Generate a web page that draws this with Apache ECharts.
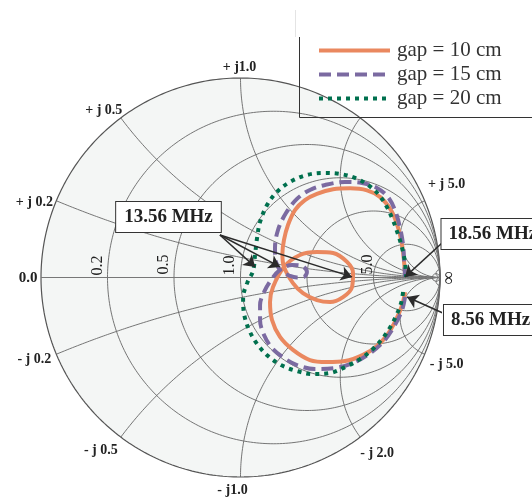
<!DOCTYPE html>
<html><head><meta charset="utf-8">
<script src="https://cdn.jsdelivr.net/npm/echarts@6/dist/echarts.min.js"></script>
<style>html,body{margin:0;padding:0;background:#fff}#c{width:532px;height:500px}</style>
</head><body><div id="c"></div>
<script>
// ---------- data (reflection coefficient Γ = [Re, Im]) ----------
const seriesNames = ['gap = 10 cm', 'gap = 15 cm', 'gap = 20 cm'];
const gap10 = [[0.825,-0.073],[0.810,-0.138],[0.779,-0.213],[0.739,-0.283],[0.684,-0.343],[0.614,-0.388],[0.524,-0.419],[0.434,-0.424],[0.348,-0.414],[0.263,-0.363],[0.198,-0.298],[0.158,-0.213],[0.148,-0.123],[0.163,-0.048],[0.218,0.053],[0.298,0.113],[0.383,0.128],[0.464,0.123],[0.534,0.078],[0.564,0.023],[0.559,-0.048],[0.514,-0.098],[0.449,-0.123],[0.383,-0.113],[0.313,-0.078],[0.263,-0.028],[0.218,0.053],[0.210,0.118],[0.218,0.188],[0.238,0.263],[0.273,0.338],[0.323,0.388],[0.383,0.419],[0.464,0.442],[0.549,0.447],[0.634,0.437],[0.699,0.404],[0.754,0.338],[0.789,0.253],[0.810,0.163],[0.820,0.078],[0.825,0.013]];
const gap15 = [[0.825,-0.098],[0.810,-0.163],[0.774,-0.238],[0.724,-0.313],[0.659,-0.373],[0.574,-0.424],[0.474,-0.454],[0.373,-0.459],[0.283,-0.439],[0.218,-0.404],[0.158,-0.353],[0.118,-0.288],[0.098,-0.213],[0.098,-0.138],[0.118,-0.073],[0.153,-0.013],[0.198,0.038],[0.258,0.063],[0.308,0.058],[0.333,0.028],[0.318,0.003],[0.283,0.000],[0.248,0.008],[0.203,0.033],[0.178,0.078],[0.173,0.148],[0.188,0.238],[0.228,0.323],[0.283,0.394],[0.348,0.439],[0.424,0.464],[0.524,0.479],[0.609,0.474],[0.684,0.449],[0.739,0.404],[0.774,0.338],[0.800,0.248],[0.815,0.163],[0.820,0.088],[0.825,0.003]];
const gap20 = [[0.815,-0.073],[0.805,-0.128],[0.784,-0.183],[0.754,-0.243],[0.714,-0.303],[0.664,-0.358],[0.599,-0.409],[0.524,-0.449],[0.449,-0.479],[0.363,-0.484],[0.283,-0.469],[0.203,-0.439],[0.138,-0.394],[0.083,-0.333],[0.043,-0.263],[0.018,-0.183],[0.013,-0.103],[0.033,-0.028],[0.063,0.033],[0.073,0.113],[0.083,0.198],[0.098,0.278],[0.133,0.363],[0.183,0.429],[0.248,0.479],[0.333,0.514],[0.414,0.524],[0.499,0.519],[0.574,0.499],[0.639,0.464],[0.694,0.414],[0.734,0.353],[0.764,0.288],[0.789,0.218],[0.810,0.148],[0.825,0.073],[0.830,0.003]];

// Smith chart grid values and tick labels
const resistanceGrid = [0.2, 0.5, 1, 2, 5, 50];
const reactanceGrid = [0.2, 0.5, 1, 2, 5, 50];
const resistanceTicks = [0.2, 0.5, 1, 5];
const resistanceTickLabels = ['0.2', '0.5', '1.0', '5.0'];
const reactanceTicks = [0.2, 0.5, 1, 5, -0.2, -0.5, -1, -2, -5];
const reactanceTickLabels = ['+ j 0.2', '+ j 0.5', '+ j1.0', '+ j 5.0', '- j 0.2', '- j 0.5', '- j1.0', '- j 2.0', '- j 5.0'];
const realAxisLabels = ['0.0', '\u221E'];

// frequency annotations
const freqLabels = ['13.56 MHz', '18.56 MHz', '8.56 MHz'];
const points1356 = [[0.073,0.053],[0.198,0.053],[0.559,0.003]];
const point1856 = [0.825,0.003];
const point856 = [0.835,-0.098];

// ---------- layout (pixels / styles) ----------
const reactanceLabelOffsets = [[-22,2],[-17,-8],[-1,-11],[22,-16],[-22,5],[-20,13],[-8,13],[17,16],[22,10]];
const resistanceLabelOffsets = [[-10,-12],[-10,-13],[-11,-12],[-6,-13]];
const boxAnchors = [[-0.361,0.303],[1.0075,0.218],[1.020,-0.213]]; // box1 centre, box2/3 left-middle
const arrowTails = [[-0.103,0.213],[1.010,0.173],[1.015,-0.178]];
const colors = ['#ea885f', '#7b6aa1', '#00704e'];
const SERIF = '"Liberation Serif","Times New Roman",serif';

function gammaOf(r, x) { const a = r - 1, c = r + 1, d = c * c + x * x; return [(a * c + x * x) / d, 2 * x / d]; }
function rCircle(r) { const c = r / (r + 1), rad = 1 / (r + 1), p = []; for (let i = 0; i <= 360; i++) { const t = i * Math.PI / 180; p.push([c + rad * Math.cos(t), rad * Math.sin(t)]); } return p; }
function xArc(x) { const p = []; for (let i = 0; i <= 400; i++) { const s = i / 400 * Math.PI / 2 * 0.9995; p.push(gammaOf(Math.tan(s), x)); } return p; }

const gridStyle = { color: '#666', width: 0.9 };
const series = [];
series.push({
  type: 'custom', coordinateSystem: 'cartesian2d', silent: true, z: 0, clip: false,
  data: [[0, 0]],
  renderItem: function (params, api) {
    const c = api.coord([0, 0]), e = api.coord([1, 0]);
    return { type: 'circle', shape: { cx: c[0], cy: c[1], r: e[0] - c[0] }, style: { fill: '#f4f6f5', stroke: null } };
  }
});
function gridLine(pts, style) {
  series.push({ type: 'line', data: pts, symbol: 'none', silent: true, z: 1, clip: false, lineStyle: style, animation: false });
}
gridLine(rCircle(0), { color: '#555', width: 1.2 });
resistanceGrid.forEach(r => gridLine(rCircle(r), gridStyle));
reactanceGrid.forEach(x => { gridLine(xArc(x), gridStyle); gridLine(xArc(-x), gridStyle); });
gridLine([[-1, 0], [1, 0]], { color: '#777', width: 1 });

const dataSets = [gap10, gap15, gap20];
const dashTypes = ['solid', [12, 6], [4, 5]];
dataSets.forEach((d, i) => {
  series.push({
    name: seriesNames[i], type: 'line', data: d, symbol: 'none', smooth: 0.35, z: 3 + i, clip: false,
    lineStyle: { color: colors[i], width: 4, type: dashTypes[i], cap: 'butt' },
    itemStyle: { color: colors[i] }, animation: false
  });
});

// arrows
const arrowData = [];
points1356.forEach(p => arrowData.push({ coords: [arrowTails[0], p] }));
arrowData.push({ coords: [arrowTails[1], point1856] });
arrowData.push({ coords: [arrowTails[2], point856] });
series.push({
  type: 'lines', coordinateSystem: 'cartesian2d', z: 8, silent: true,
  symbol: ['none', 'arrow'], symbolSize: 11,
  lineStyle: { color: '#2b2b2b', width: 1.5, opacity: 1 },
  data: arrowData, animation: false
});

// text labels
const textItems = [];
reactanceTicks.forEach((x, i) => { const g = gammaOf(0, x); textItems.push({ p: g, t: reactanceTickLabels[i], o: reactanceLabelOffsets[i], rot: 0, font: 'bold 14px ' + SERIF }); });
resistanceTicks.forEach((r, i) => { textItems.push({ p: [(r - 1) / (r + 1), 0], t: resistanceTickLabels[i], o: resistanceLabelOffsets[i], rot: Math.PI / 2, font: '16px ' + SERIF }); });
textItems.push({ p: [-1, 0], t: realAxisLabels[0], o: [-13, 1], rot: 0, font: 'bold 15px ' + SERIF });
textItems.push({ p: [1, 0], t: realAxisLabels[1], o: [9, 0], rot: Math.PI / 2, font: 'bold 18px ' + SERIF });
series.push({
  type: 'custom', coordinateSystem: 'cartesian2d', silent: true, z: 9, clip: false,
  data: textItems.map((it, i) => [it.p[0], it.p[1], i]),
  renderItem: function (params, api) {
    const it = textItems[api.value(2)];
    const c = api.coord([api.value(0), api.value(1)]);
    return { type: 'text', x: c[0] + it.o[0], y: c[1] + it.o[1], rotation: it.rot,
      style: { text: it.t, font: it.font, fill: '#222', align: 'center', verticalAlign: 'middle', textAlign: 'center', textVerticalAlign: 'middle' } };
  }
});
// frequency boxes
series.push({
  type: 'custom', coordinateSystem: 'cartesian2d', silent: true, z: 10, clip: false,
  data: boxAnchors.map((p, i) => [p[0], p[1], i]),
  renderItem: function (params, api) {
    const i = api.value(2);
    const c = api.coord([api.value(0), api.value(1)]);
    const al = i === 0 ? 'center' : 'left';
    return { type: 'text', x: c[0], y: c[1],
      style: { text: freqLabels[i], font: 'bold 19px ' + SERIF, fill: '#222', align: al, verticalAlign: 'middle', textAlign: al, textVerticalAlign: 'middle',
        backgroundColor: '#fff', borderColor: '#333', borderWidth: 1, padding: i === 0 ? [6, 8, 5, 8] : [6, 6, 5, 7] } };
  }
});

const chart = echarts.init(document.getElementById('c'), null, { renderer: 'canvas' });
chart.setOption({
  animation: false,
  grid: { left: 41, top: 78, width: 399, height: 399 },
  xAxis: { type: 'value', min: -1, max: 1, show: false },
  yAxis: { type: 'value', min: -1, max: 1, show: false },
  legend: {
    data: seriesNames, orient: 'vertical', left: 312, top: 35, itemWidth: 71, itemHeight: 14, itemGap: 3,
    itemStyle: { opacity: 0 },
    lineStyle: { width: 4 },
    textStyle: { fontFamily: SERIF, fontSize: 21, color: '#333', padding: [0, 0, 0, 2] },
    selectedMode: false
  },
  graphic: [
    { type: 'line', shape: { x1: 299.5, y1: 37, x2: 299.5, y2: 117.5 }, style: { stroke: '#333', lineWidth: 1 }, z: 20 },
    { type: 'line', shape: { x1: 299.5, y1: 117.5, x2: 532, y2: 117.5 }, style: { stroke: '#333', lineWidth: 1 }, z: 20 },
    { type: 'line', shape: { x1: 295.5, y1: 10, x2: 295.5, y2: 37 }, style: { stroke: '#e4e4e4', lineWidth: 1 }, z: 20 }
  ],
  series: series
});
</script></body></html>
